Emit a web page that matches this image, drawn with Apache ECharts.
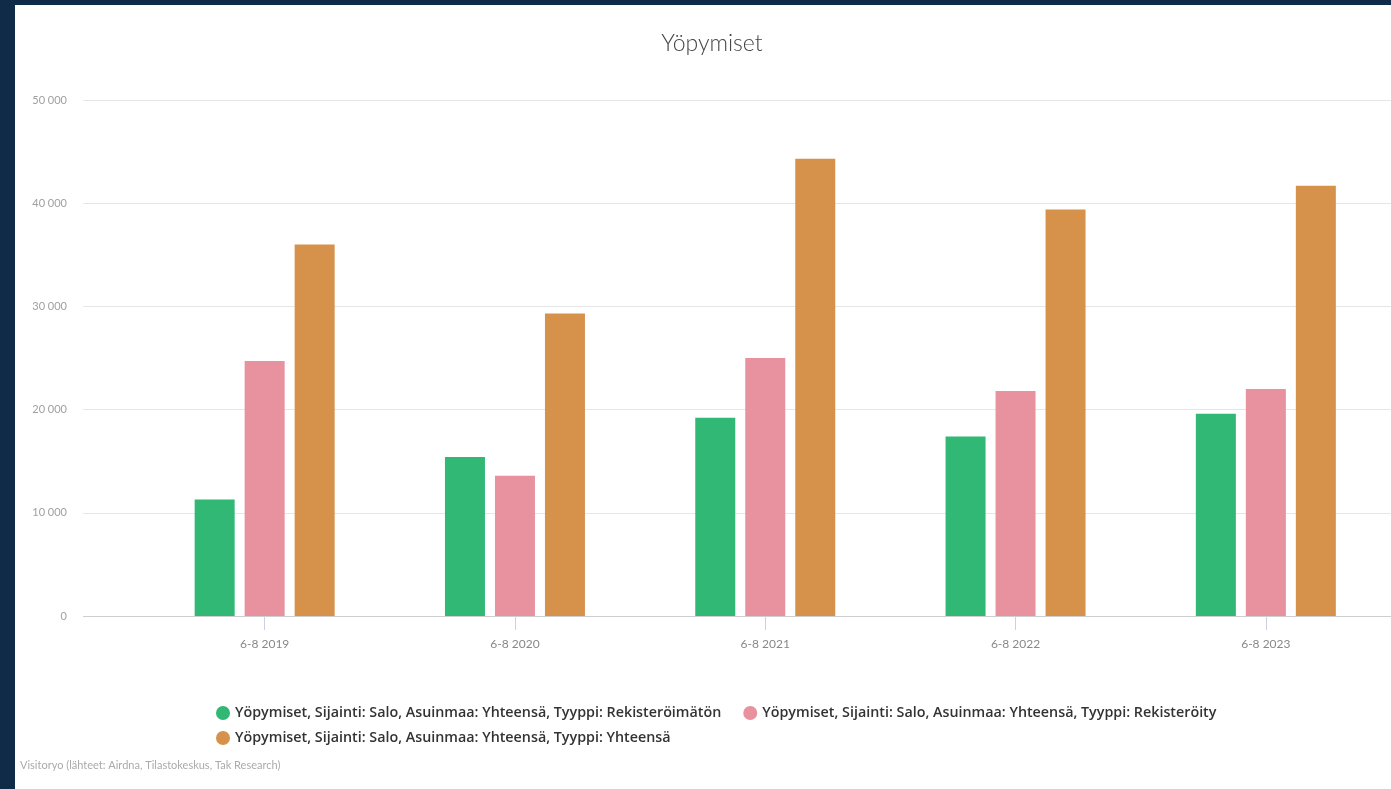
<!DOCTYPE html>
<html>
<head>
<meta charset="utf-8">
<script src="https://cdn.jsdelivr.net/npm/echarts@6/dist/echarts.min.js"></script>
<style>
html,body{margin:0;padding:0;background:#0f2b47;width:1391px;height:789px;overflow:hidden;}
#chart{position:absolute;left:15px;top:5px;width:1376px;height:784px;background:#fff;}
</style>
</head>
<body>
<div id="chart"></div>
<script>
const categories = ['6-8 2019', '6-8 2020', '6-8 2021', '6-8 2022', '6-8 2023'];
const seriesNames = [
  'Yöpymiset, Sijainti: Salo, Asuinmaa: Yhteensä, Tyyppi: Rekisteröimätön',
  'Yöpymiset, Sijainti: Salo, Asuinmaa: Yhteensä, Tyyppi: Rekisteröity',
  'Yöpymiset, Sijainti: Salo, Asuinmaa: Yhteensä, Tyyppi: Yhteensä'
];
const unregistered = [11300, 15400, 19200, 17400, 19600];
const registered   = [24700, 13600, 25000, 21800, 22000];
const total        = [36000, 29300, 44300, 39400, 41700];
const colors = ['#31b874', '#e8919f', '#d6924b'];
const yTicks = [0, 10000, 20000, 30000, 40000, 50000];
const sourceText = 'Visitoryo (lähteet: Airdna, Tilastokeskus, Tak Research)';
const titleText = 'Yöpymiset';

const fmt = v => String(v).replace(/\B(?=(\d{3})+(?!\d))/g, ' ');

const chart = echarts.init(document.getElementById('chart'));
const yMax = yTicks[yTicks.length - 1];
const yInt = yTicks[1] - yTicks[0];
const legendText = { fontFamily: 'Open Sans', fontWeight: 600, fontSize: 14.3, color: '#333' };

chart.setOption({
  backgroundColor: '#ffffff',
  animation: false,
  color: colors,
  title: {
    text: titleText,
    left: 692, top: 22, textAlign: 'center',
    textStyle: { fontFamily: 'Lato', fontWeight: 300, fontSize: 23, color: '#444' }
  },
  legend: [
    {
      data: [seriesNames[0], seriesNames[1]],
      left: 196, top: 696, icon: 'circle', itemWidth: 14, itemHeight: 14, itemGap: 22,
      textStyle: legendText
    },
    {
      data: [seriesNames[2]],
      left: 196, top: 721, icon: 'circle', itemWidth: 14, itemHeight: 14,
      textStyle: legendText
    }
  ],
  graphic: [{
    type: 'text', left: 5, top: 755,
    style: { text: sourceText, fontFamily: 'Lato', fontSize: 11, fill: '#aaa' }
  }],
  grid: [
    { left: 124.5, width: 1255, top: 95, bottom: 173, containLabel: false },
    { left: 68, right: 0, top: 95, bottom: 173, containLabel: false }
  ],
  xAxis: [
    {
      type: 'category', gridIndex: 0, data: categories,
      axisLine: { show: false },
      axisTick: { show: true, alignWithLabel: true, length: 14, lineStyle: { color: '#ccd0e0' } },
      axisLabel: { margin: 22, fontFamily: 'Lato', fontSize: 12, color: '#888' }
    },
    {
      type: 'value', gridIndex: 1, min: 0, max: 1, show: true,
      axisLine: { show: false }, axisTick: { show: false }, axisLabel: { show: false }, splitLine: { show: false }
    }
  ],
  yAxis: [
    {
      type: 'value', gridIndex: 0, min: 0, max: yMax, interval: yInt, show: false,
      splitLine: { show: false }
    },
    {
      type: 'value', gridIndex: 1, min: 0, max: yMax, interval: yInt,
      axisLine: { show: false }, axisTick: { show: false },
      axisLabel: { margin: 16, fontFamily: 'Lato', fontSize: 11, color: '#a0a0a0', formatter: fmt },
      splitLine: {
        show: true,
        lineStyle: { color: ['#cfcfcf', '#e6e6e6', '#e6e6e6', '#e6e6e6', '#e6e6e6', '#e6e6e6'] }
      }
    }
  ],
  series: [
    { name: seriesNames[0], type: 'bar', xAxisIndex: 0, yAxisIndex: 0, data: unregistered, barWidth: 40, barGap: '25%' },
    { name: seriesNames[1], type: 'bar', xAxisIndex: 0, yAxisIndex: 0, data: registered, barWidth: 40, barGap: '25%' },
    { name: seriesNames[2], type: 'bar', xAxisIndex: 0, yAxisIndex: 0, data: total, barWidth: 40, barGap: '25%' }
  ]
});
</script>
</body>
</html>
